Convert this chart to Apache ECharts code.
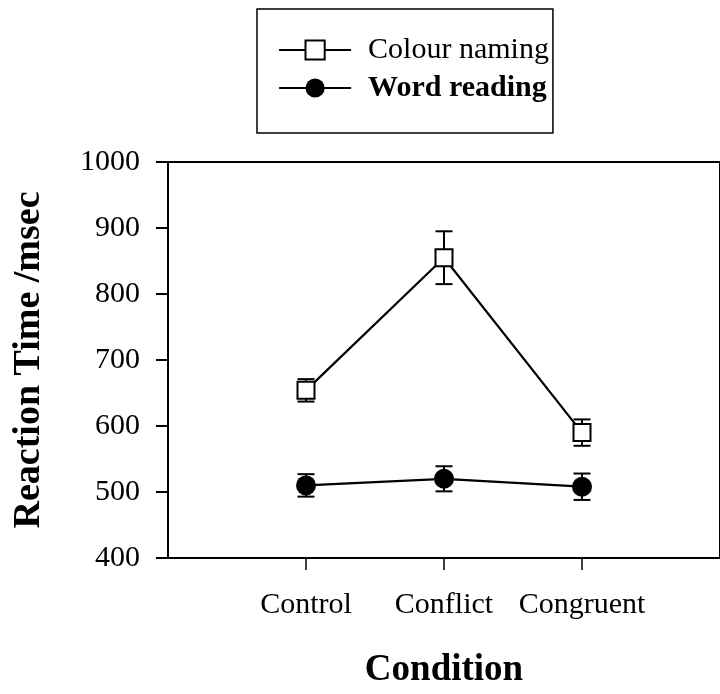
<!DOCTYPE html>
<html>
<head>
<meta charset="utf-8">
<script src="https://cdn.jsdelivr.net/npm/echarts@6/dist/echarts.min.js"></script>
<style>
html,body{margin:0;padding:0;background:#fff;}
#chart{width:720px;height:694px;}
</style>
</head>
<body>
<div id="chart"></div>
<script>
var categories = ['Control', 'Conflict', 'Congruent'];
var colourNaming = [654, 855, 590];
var colourNamingSE = [17, 40, 20];
var wordReading = [510, 520, 508];
var wordReadingSE = [17, 19, 20];
var yTicks = [400, 500, 600, 700, 800, 900, 1000];

var FONT = "'Liberation Serif', 'Times New Roman', serif";

function pts(vals) { return vals.map(function (v, i) { return [i + 1, v]; }); }
function errPts(vals, se) { return vals.map(function (v, i) { return [i + 1, v, se[i]]; }); }

function errorRender(params, api) {
  var x = api.value(0), y = api.value(1), e = api.value(2);
  var top = api.coord([x, y + e]);
  var bot = api.coord([x, y - e]);
  var hw = 8.5;
  var st = { stroke: '#000', lineWidth: 2 };
  return {
    type: 'group',
    children: [
      { type: 'line', shape: { x1: top[0], y1: top[1], x2: bot[0], y2: bot[1] }, style: st },
      { type: 'line', shape: { x1: top[0] - hw, y1: top[1], x2: top[0] + hw, y2: top[1] }, style: st },
      { type: 'line', shape: { x1: bot[0] - hw, y1: bot[1], x2: bot[0] + hw, y2: bot[1] }, style: st }
    ]
  };
}

var chart = echarts.init(document.getElementById('chart'), null, { renderer: 'canvas' });
chart.setOption({
  backgroundColor: '#fff',
  animation: false,
  textStyle: { fontFamily: FONT, color: '#000' },
  legend: {
    orient: 'vertical',
    left: 257,
    top: 9,
    padding: [26, 4, 30, 21],
    itemGap: 8,
    itemWidth: 72,
    itemHeight: 24,
    borderColor: '#000',
    borderWidth: 1.5,
    borderRadius: 0,
    lineStyle: { width: 2.2, color: '#000' },
    textStyle: { fontFamily: FONT, fontSize: 30, color: '#000', padding: [0, 0, 0, 12] },
    data: [
      { name: 'Colour naming' },
      { name: 'Word reading', textStyle: { fontWeight: 'bold' } }
    ]
  },
  grid: { left: 168, top: 162, width: 560, height: 397, show: true, borderColor: '#000', borderWidth: 2, backgroundColor: 'transparent' },
  xAxis: {
    type: 'value',
    min: 0, max: 4, interval: 1,
    name: 'Condition',
    nameLocation: 'middle',
    nameGap: 94,
    nameTextStyle: { fontFamily: FONT, fontSize: 37, fontWeight: 'bold', color: '#000' },
    axisLine: { show: true, onZero: false, lineStyle: { color: '#000', width: 2 } },
    axisTick: { show: true, inside: false, length: 12, customValues: [1, 2, 3], lineStyle: { color: '#000', width: 1.5 } },
    axisLabel: {
      customValues: [1, 2, 3],
      margin: 32,
      fontFamily: FONT, fontSize: 30, color: '#000',
      formatter: function (v) { return categories[Math.round(v) - 1] || ''; }
    },
    splitLine: { show: false }
  },
  yAxis: {
    type: 'value',
    min: 400, max: 1000, interval: 100,
    name: 'Reaction Time /msec',
    nameLocation: 'middle',
    nameGap: 120,
    nameRotate: 90,
    nameTextStyle: { fontFamily: FONT, fontSize: 38, fontWeight: 'bold', color: '#000' },
    axisLine: { show: true, lineStyle: { color: '#000', width: 2 } },
    axisTick: { show: true, inside: false, length: 12, lineStyle: { color: '#000', width: 2 } },
    axisLabel: {
      margin: 28, fontFamily: FONT, fontSize: 30, color: '#000',
      customValues: yTicks,
      formatter: function (v) { return String(v); }
    },
    splitLine: { show: false }
  },
  series: [
    {
      type: 'custom', name: 'errColour', renderItem: errorRender, z: 1,
      data: errPts(colourNaming, colourNamingSE), silent: true
    },
    {
      type: 'custom', name: 'errWord', renderItem: errorRender, z: 1,
      data: errPts(wordReading, wordReadingSE), silent: true
    },
    {
      name: 'Colour naming', type: 'line', z: 3,
      data: pts(colourNaming),
      symbol: 'rect', symbolSize: 17,
      lineStyle: { color: '#000', width: 2.2 },
      itemStyle: { color: '#fff', borderColor: '#000', borderWidth: 2 }
    },
    {
      name: 'Word reading', type: 'line', z: 3,
      data: pts(wordReading),
      symbol: 'circle', symbolSize: 20,
      lineStyle: { color: '#000', width: 2.2 },
      itemStyle: { color: '#000', borderColor: '#000', borderWidth: 0 }
    }
  ]
});
</script>
</body>
</html>
